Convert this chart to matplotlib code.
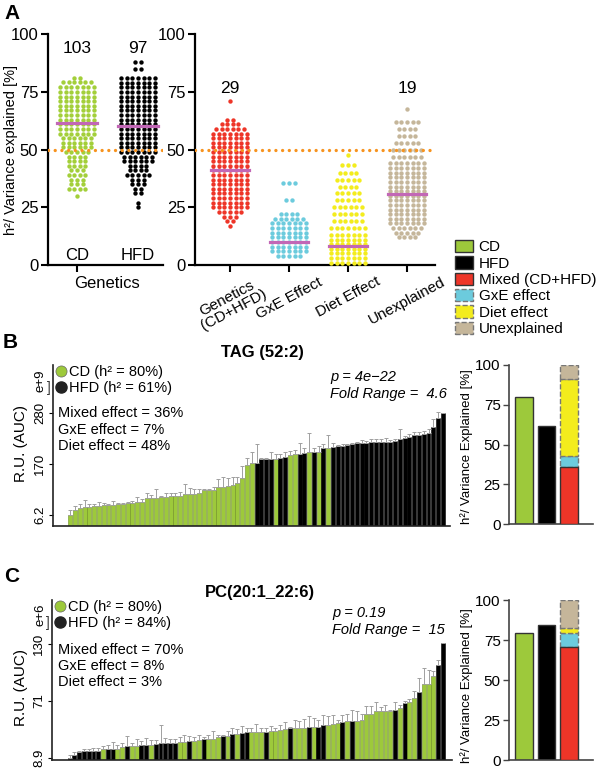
import numpy as np
import matplotlib
matplotlib.use("Agg")
import matplotlib.pyplot as plt
from matplotlib.patches import Patch
from matplotlib.lines import Line2D

plt.rcParams['font.family'] = ['Liberation Sans', 'DejaVu Sans']

# ---------------- colours ----------------
GREEN = '#9dc93b'
GREEN_PT = '#a3cf3a'
GREEN_EDGE = '#6f8f25'
RED = '#ee3528'
CYAN = '#6ccbdd'
YELLOW = '#f3ec1d'
TAN = '#c5b69a'
MAG = '#c267b6'
ORANGE = '#f7931e'

# ---------------- Panel A data ----------------
a1_groups = ['CD', 'HFD']
a1_counts_label = ['103', '97']
a1_medians = [61.7, 60.3]
cd_levels = [81, 79.5, 77, 75, 73, 71, 69, 67, 65, 63, 61, 59, 57, 55, 53, 51, 49, 47, 45, 43, 41, 39, 37, 35, 33, 30]
cd_counts = [2, 6, 7, 7, 7, 7, 7, 7, 7, 7, 7, 7, 7, 6, 6, 6, 5, 4, 4, 4, 3, 4, 3, 3, 4, 1]
hfd_levels = [88, 85, 81, 79, 77, 75, 73, 71, 69, 67, 65, 63, 61, 59, 57, 55, 53, 51, 49, 47, 45, 43, 41, 39, 37, 35, 33, 31, 27, 25]
hfd_counts = [2, 2, 7, 7, 7, 7, 7, 7, 7, 7, 7, 7, 7, 7, 7, 7, 7, 7, 7, 6, 6, 4, 4, 5, 3, 3, 2, 2, 1, 1]

a2_groups = ['Genetics\n(CD+HFD)', 'GxE Effect', 'Diet Effect', 'Unexplained']
a2_medians = [41.2, 9.8, 8.4, 30.6]
a2_count_labels = {0: '29', 3: '19'}
gen_levels = [71, 63, 61, 59, 57, 55, 53, 51, 49, 47, 45, 43, 41, 39, 37, 35, 33, 31, 29, 27, 25, 23, 21, 19, 17]
gen_counts = [1, 2, 4, 6, 7, 7, 7, 7, 7, 7, 7, 7, 7, 7, 7, 7, 7, 7, 7, 7, 7, 5, 3, 2, 1]
gxe_levels = [35.5, 28, 22, 20, 18, 16, 14, 12, 10, 8, 6, 4]
gxe_counts = [3, 2, 4, 6, 7, 7, 7, 7, 7, 7, 7, 5]
diet_levels = [47.5, 43.5, 40, 37, 34, 31, 28, 25, 22, 19, 16, 13, 11, 9, 7, 5, 3, 1]
diet_counts = [1, 3, 4, 5, 4, 5, 5, 6, 6, 6, 7, 7, 7, 7, 7, 7, 7, 7]
unx_levels = [67.5, 62, 59, 56, 53, 50, 47, 44, 42, 40, 38, 36, 34, 32, 30, 28, 26, 24, 22, 20, 18, 16, 14, 12]
unx_counts = [1, 5, 4, 4, 5, 6, 6, 7, 7, 7, 7, 7, 7, 7, 7, 7, 7, 7, 7, 7, 7, 6, 5, 4]

legend_labels = ['CD', 'HFD', 'Mixed (CD+HFD)', 'GxE effect', 'Diet effect', 'Unexplained']

# ---------------- Panel B data (TAG 52:2) ----------------
tag_title = 'TAG (52:2)'
tag_ticklabels = ['6.2', '170', '280']
tag_exp = 'e+9'
tag_diet = ('CCCCCCCCCCCCCCCCCCCCCCCCCCCCCCCCCCCCCCC' 'HHHH' 'C' 'HH' 'CC' 'HH' 'C' 'H' 'C' 'H' 'C'
            'HHHHHHHHHHHHHHHHHHHHHHHH')
tag_vals = [1.00, 1.10, 1.13, 1.15, 1.16, 1.18, 1.18, 1.19, 1.19, 1.20, 1.21, 1.21, 1.23, 1.24, 1.26, 1.26,
            1.33, 1.33, 1.34, 1.35, 1.36, 1.37, 1.37, 1.38, 1.41, 1.42, 1.42, 1.44, 1.48, 1.48, 1.49, 1.54,
            1.54, 1.56, 1.59, 1.62, 1.72, 1.98, 2.01,
            2.01, 2.09, 2.09, 2.10, 2.09, 2.11, 2.14, 2.18, 2.19, 2.20, 2.21, 2.24, 2.24, 2.24, 2.31, 2.32,
            2.34, 2.35, 2.35, 2.37, 2.39, 2.41, 2.42, 2.42, 2.44, 2.44, 2.44, 2.44, 2.44, 2.46, 2.49, 2.50,
            2.52, 2.56, 2.57, 2.59, 2.61, 2.73, 2.90, 2.99]
tag_err = [0.10, 0.07, 0.08, 0.14, 0.05, 0.03, 0.08, 0.05, 0.03, 0.08, 0.03, 0.03, 0.03, 0.03, 0.10, 0.05,
           0.10, 0.07, 0.16, 0.03, 0.07, 0.07, 0.07, 0.08, 0.19, 0.10, 0.08, 0.06, 0.03, 0.03, 0.05, 0.16,
           0.20, 0.16, 0.15, 0.12, 0.24, 0.13, 0.23,
           0.38, 0.02, 0.03, 0.14, 0.10, 0.08, 0.10, 0.07, 0.08, 0.21, 0.10, 0.36, 0.08, 0.11, 0.08, 0.25,
           0.07, 0.03, 0.05, 0.03, 0.03, 0.03, 0.05, 0.03, 0.05, 0.05, 0.05, 0.06, 0.03, 0.03, 0.19, 0.05,
           0.07, 0.06, 0.05, 0.05, 0.08, 0.15, 0.11, 0.01]
tag_h2 = ['CD (h² = 80%)', 'HFD (h² = 61%)']
tag_effects = ['Mixed effect = 36%', 'GxE effect = 7%', 'Diet effect = 48%']
tag_stats = ['p = 4e\u221222', 'Fold Range =  4.6']
tag_share_cd, tag_share_hfd = 80, 61.5
tag_parts = [36, 7, 48, 9]

# ---------------- Panel C data (PC 20:1_22:6) ----------------
pc_title = 'PC(20:1_22:6)'
pc_ticklabels = ['8.9', '71', '130']
pc_exp = 'e+6'
pc_diet = ('HHHHHHHCHHCCHCCHHCHHHHHCCH' 'CCHCCCHCHCHHCCCHCCCCHCCCHCHH' 'CCCHCHCCCCCCCCHCHCCHCCCHH')
pc_vals = [1.00, 1.06, 1.10, 1.12, 1.12, 1.13, 1.13, 1.15, 1.15, 1.16, 1.16, 1.19, 1.21, 1.21, 1.21, 1.23,
           1.23, 1.23, 1.25, 1.26, 1.26, 1.27, 1.27, 1.28, 1.28, 1.29,
           1.30, 1.31, 1.33, 1.34, 1.34, 1.37, 1.38, 1.39, 1.42, 1.42, 1.44, 1.45, 1.45, 1.45, 1.45, 1.46,
           1.47, 1.48, 1.49, 1.50, 1.52, 1.53, 1.53, 1.53, 1.54, 1.55, 1.55, 1.57,
           1.57, 1.59, 1.62, 1.63, 1.65, 1.65, 1.65, 1.67, 1.78, 1.78, 1.82, 1.82, 1.83, 1.83, 1.85, 1.88,
           1.96, 1.98, 2.06, 2.16, 2.29, 2.29, 2.44, 2.63, 3.01]
pc_err = [0.05, 0.04, 0.03, 0.04, 0.04, 0.04, 0.04, 0.06, 0.07, 0.12, 0.06, 0.07, 0.18, 0.06, 0.12, 0.06,
          0.12, 0.09, 0.06, 0.32, 0.09, 0.07, 0.06, 0.08, 0.12, 0.09,
          0.06, 0.09, 0.04, 0.06, 0.13, 0.03, 0.02, 0.09, 0.10, 0.09, 0.12, 0.08, 0.07, 0.14, 0.08, 0.07,
          0.09, 0.05, 0.08, 0.13, 0.03, 0.13, 0.11, 0.16, 0.19, 0.15, 0.11, 0.18,
          0.16, 0.16, 0.05, 0.12, 0.13, 0.19, 0.18, 0.11, 0.13, 0.13, 0.16, 0.08, 0.10, 0.01, 0.13, 0.05,
          0.04, 0.05, 0.11, 0.25, 0.28, 0.26, 0.09, 0.09, 0.0]
pc_h2 = ['CD (h² = 80%)', 'HFD (h² = 84%)']
pc_effects = ['Mixed effect = 70%', 'GxE effect = 8%', 'Diet effect = 3%']
pc_stats = ['p = 0.19', 'Fold Range =  15']
pc_share_cd, pc_share_hfd = 79.5, 84.5
pc_parts = [70.5, 9, 3, 17.5]

# ---------------- helpers ----------------
W, H = 600.0, 775.0
fig = plt.figure(figsize=(6, 7.75), dpi=100)


def box(l, t, r, b):
    return [l / W, 1 - b / H, (r - l) / W, (b - t) / H]


def fx(x):
    return x / W


def fy(y):
    return 1 - y / H


def swarm(levels, counts, center, dx):
    xs, ys = [], []
    for lv, n in zip(levels, counts):
        for j in range(n):
            xs.append(center + (j - (n - 1) / 2) * dx)
            ys.append(lv)
    return xs, ys


def style_a(ax):
    for s in ['top', 'right']:
        ax.spines[s].set_visible(False)
    for s in ['left', 'bottom']:
        ax.spines[s].set_linewidth(1.6)
    ax.set_ylim(0, 100)
    ax.set_yticks([0, 25, 50, 75, 100])
    ax.tick_params(axis='both', length=5, width=1.5, labelsize=12, pad=2)
    ax.axhline(50, color=ORANGE, lw=2.4, ls=(0, (0.01, 2.0)), dash_capstyle='round', zorder=5)


PT_S = 10

# ---------------- Panel A1 ----------------
axA1 = fig.add_axes(box(48, 34.3, 163, 265))
style_a(axA1)
axA1.set_xlim(-0.475, 1.41)
for i, (lv, ct) in enumerate([(cd_levels, cd_counts), (hfd_levels, hfd_counts)]):
    xs, ys = swarm(lv, ct, i, 0.092)
    axA1.scatter(xs, ys, s=PT_S, color=[GREEN_PT, 'black'][i], linewidths=0, zorder=3)
    axA1.plot([i - 0.32, i + 0.32], [a1_medians[i]] * 2, color=MAG, lw=2.3, zorder=4)
    axA1.text(i, 94, a1_counts_label[i], ha='center', va='center', fontsize=12.5)
    axA1.text(i, 4.3, a1_groups[i], ha='center', va='center', fontsize=12)
axA1.set_xticks([0])
axA1.set_xticklabels([''])
fig.text(fx(107), fy(283), 'Genetics', ha='center', va='center', fontsize=12)
fig.text(fx(11), fy(150), 'h²/ Variance explained [%]', rotation=90, ha='center', va='center', fontsize=10.5)

# ---------------- Panel A2 ----------------
axA2 = fig.add_axes(box(195, 34.3, 435, 265))
style_a(axA2)
axA2.set_xlim(-0.593, 3.475)
a2_data = [(gen_levels, gen_counts, RED), (gxe_levels, gxe_counts, CYAN),
           (diet_levels, diet_counts, YELLOW), (unx_levels, unx_counts, TAN)]
for i, (lv, ct, col) in enumerate(a2_data):
    xs, ys = swarm(lv, ct, i, 0.095)
    axA2.scatter(xs, ys, s=PT_S, color=col, linewidths=0, zorder=3)
    axA2.plot([i - 0.33, i + 0.33], [a2_medians[i]] * 2, color=MAG, lw=2.3, zorder=4)
for i, lab in a2_count_labels.items():
    axA2.text(i, 76.7, lab, ha='center', va='center', fontsize=12.5)
axA2.set_xticks(range(4))
axA2.set_xticklabels(a2_groups, rotation=28, ha='center', va='top', fontsize=11, linespacing=1.0)

# legend of panel A
handles = [Patch(facecolor=GREEN, edgecolor='#333333', lw=1.0),
           Patch(facecolor='black', edgecolor='#333333', lw=1.0),
           Patch(facecolor=RED, edgecolor='#333333', lw=1.0),
           Patch(facecolor=CYAN, edgecolor='#777777', lw=1.0, ls='--'),
           Patch(facecolor=YELLOW, edgecolor='#777777', lw=1.0, ls='--'),
           Patch(facecolor=TAN, edgecolor='#777777', lw=1.0, ls='--')]
fig.legend(handles, legend_labels, loc='upper left', bbox_to_anchor=(fx(455), fy(240)),
           frameon=False, fontsize=11, handlelength=1.2, handleheight=0.85,
           labelspacing=0.13, handletextpad=0.35, borderpad=0, borderaxespad=0)


# ---------------- bar panels ----------------
def bar_panel(rect, vals, errs, diets, ylo, yhi, xlim, ticklabels, h2):
    ax = fig.add_axes(rect)
    n = len(vals)
    x = np.arange(n)
    vals = np.asarray(vals)
    colors = [GREEN if d == 'C' else 'black' for d in diets]
    edges = [GREEN_EDGE if d == 'C' else 'black' for d in diets]
    ax.bar(x, vals - ylo, bottom=ylo, width=0.82, color=colors, edgecolor=edges, linewidth=0.4, zorder=2)
    ax.errorbar(x, vals, yerr=[np.zeros(n), errs], fmt='none', ecolor='#a0a0a0',
                elinewidth=0.7, capsize=1.5, capthick=0.7, zorder=3)
    ax.set_xlim(*xlim)
    ax.set_ylim(ylo, yhi)
    for s in ['top', 'right']:
        ax.spines[s].set_visible(False)
    for s in ['left', 'bottom']:
        ax.spines[s].set_linewidth(1.2)
        ax.spines[s].set_color('#222222')
    ax.set_yticks([1, 2, 3])
    ax.set_yticklabels(ticklabels, rotation=90, va='center', fontsize=9.5)
    ax.tick_params(axis='y', length=3, width=0.8, pad=2)
    ax.set_xticks([])
    hh = [Line2D([], [], marker='o', color=GREEN, markeredgecolor='#666666', markeredgewidth=0.5,
                 ls='none', markersize=8),
          Line2D([], [], marker='o', color='#222222', markeredgecolor='#222222', ls='none', markersize=8)]
    ax.legend(hh, h2, loc='upper left', bbox_to_anchor=(0.008, 1.0), frameon=False, fontsize=10.5,
              handlelength=0.6, handletextpad=0.25, labelspacing=0.12, borderpad=0, borderaxespad=0)
    return ax


# Panel B main
axB = bar_panel(box(53, 365, 450, 526), tag_vals, tag_err, tag_diet, 0.784, 3.94, (-3.62, 79.5),
                tag_ticklabels, tag_h2)
for k, t in enumerate(tag_effects):
    fig.text(fx(58), fy(413 + 16.5 * k), t, ha='left', va='center', fontsize=10.5)
fig.text(fx(330), fy(377), tag_stats[0], ha='left', va='center', fontsize=10.5, style='italic')
fig.text(fx(330), fy(394), tag_stats[1], ha='left', va='center', fontsize=10.5, style='italic')
fig.text(fx(262), fy(352), tag_title, ha='center', va='center', fontsize=12, weight='bold')
fig.text(fx(21), fy(444), 'R.U. (AUC)', rotation=90, ha='center', va='center', fontsize=11)
fig.text(fx(40), fy(381), tag_exp, rotation=90, ha='center', va='center', fontsize=9.5)
fig.text(fx(48.5), fy(388), ']', ha='center', va='center', fontsize=10, color='#333333')

# Panel C main
axC = bar_panel(box(52, 600, 452, 760), pc_vals, pc_err, pc_diet, 0.965, 3.77, (-3.67, 79.9),
                pc_ticklabels, pc_h2)
for k, t in enumerate(pc_effects):
    fig.text(fx(58), fy(650 + 16 * k), t, ha='left', va='center', fontsize=10.5)
fig.text(fx(332), fy(613), pc_stats[0], ha='left', va='center', fontsize=10.5, style='italic')
fig.text(fx(332), fy(630), pc_stats[1], ha='left', va='center', fontsize=10.5, style='italic')
fig.text(fx(260), fy(593), pc_title, ha='center', va='center', fontsize=12, weight='bold')
fig.text(fx(21), fy(687), 'R.U. (AUC)', rotation=90, ha='center', va='center', fontsize=11)
fig.text(fx(40), fy(615), pc_exp, rotation=90, ha='center', va='center', fontsize=9.5)
fig.text(fx(48), fy(623), ']', ha='center', va='center', fontsize=10, color='#333333')


# ---------------- share panels ----------------
def share_panel(rect, cd, hfd, parts, ylab_y):
    ax = fig.add_axes(rect)
    ax.bar([0], [cd], width=0.77, color=GREEN, edgecolor='#333333', lw=1.0)
    ax.bar([1], [hfd], width=0.77, color='black', edgecolor='#333333', lw=1.0)
    cols = [RED, CYAN, YELLOW, TAN]
    bottom = 0
    for k, (v, c) in enumerate(zip(parts, cols)):
        if k == 0:
            ax.bar([2], [v], bottom=bottom, width=0.77, color=c, edgecolor='#333333', lw=1.0, zorder=3)
        else:
            ax.bar([2], [v], bottom=bottom, width=0.77, color=c, edgecolor='#777777', lw=1.0,
                   ls='--', zorder=2)
        bottom += v
    ax.set_xlim(-0.667, 3.07)
    ax.set_ylim(0, 100)
    ax.set_yticks([0, 25, 50, 75, 100])
    ax.set_xticks([])
    for s in ['top', 'right']:
        ax.spines[s].set_visible(False)
    for s in ['left', 'bottom']:
        ax.spines[s].set_linewidth(1.2)
        ax.spines[s].set_color('#444444')
    ax.tick_params(axis='y', length=4, width=1.0, labelsize=11, pad=2, color='#444444')
    fig.text(fx(467), fy(ylab_y), 'h²/ Variance Explained [%]', rotation=90, ha='center', va='center',
             fontsize=9.5)
    return ax


share_panel(box(509, 365, 593, 524), tag_share_cd, tag_share_hfd, tag_parts, 447)
share_panel(box(509, 600, 593, 760), pc_share_cd, pc_share_hfd, pc_parts, 686)

# panel letters
fig.text(fx(4), fy(4), 'A', ha='left', va='top', fontsize=15, weight='bold')
fig.text(fx(3), fy(333), 'B', ha='left', va='top', fontsize=15, weight='bold')
fig.text(fx(4), fy(567), 'C', ha='left', va='top', fontsize=15, weight='bold')

fig.savefig('out.png', dpi=100)
